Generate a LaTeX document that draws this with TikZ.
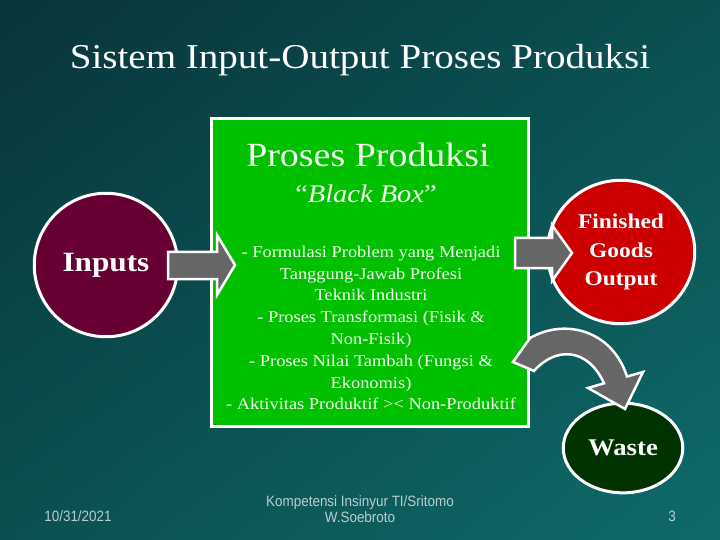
\documentclass[tikz,border=0pt]{standalone}
\usepackage{fontspec}
\setmainfont{Liberation Serif}[FakeStretch=1.12]
\newfontfamily\footfont{Liberation Sans}[FakeStretch=0.9]
\usetikzlibrary{shapes.geometric,shadings}
\definecolor{bgdark}{HTML}{08343A}
\definecolor{bgmid}{HTML}{0B5050}
\definecolor{bglight}{HTML}{0F6A6A}
\definecolor{boxgreen}{HTML}{00C000}
\definecolor{inmaroon}{HTML}{660033}
\definecolor{outred}{HTML}{CC0000}
\definecolor{wastegreen}{HTML}{003300}
\definecolor{arrowgray}{HTML}{666666}
\definecolor{paletext}{HTML}{F2FFEE}
\definecolor{foottext}{HTML}{B8CFCF}
\tikzset{
  blob/.style={ellipse, draw=white, line width=3bp, inner sep=0pt},
  blockarrow/.style={fill=arrowgray, draw=white, line width=2.5bp, line join=miter},
  boxtext/.style={text=paletext, inner sep=0pt, align=center},
  foot/.style={text=foottext, inner sep=0pt, align=center, font=\footfont\fontsize{15}{15}\selectfont}
}
\begin{document}
\begin{tikzpicture}[x=1bp,y=-1bp]
                \useasboundingbox (0,0) rectangle (720,540);
                % Drawing background
                \shade [upper left=bgdark, upper right=bgmid, lower left=bgmid, lower right=bglight] (0,0) rectangle (720,540);%

                % Marking title
                \node [text=white, inner sep=0pt, font=\fontsize{35}{40}\selectfont] (title) at (360,60) {Sistem Input-Output Proses Produksi};%

                % Drawing black box
                \draw [fill=boxgreen, draw=white, line width=3bp] (211,119) rectangle (528,426);%
                \node [boxtext, font=\fontsize{34}{40}\selectfont] (boxtitle) at (368,155) {Proses Produksi};%
                \node [boxtext, font=\fontsize{25.5}{30}\selectfont] (blackbox) at (366,194) {``\textit{Black Box}''};%
                \node [boxtext, font=\fontsize{16.5}{21.9}\selectfont] (boxbody) at (371,328) {- Formulasi Problem yang Menjadi\\Tanggung-Jawab Profesi\\Teknik Industri\\- Proses Transformasi (Fisik \&\\Non-Fisik)\\- Proses Nilai Tambah (Fungsi \&\\Ekonomis)\\- Aktivitas Produktif >< Non-Produktif};%

                % Drawing inputs
                \node [blob, fill=inmaroon, minimum width=144, minimum height=144] (inputs) at (106,265) {};%
                \node [text=white, font=\bfseries\fontsize{28}{30}\selectfont] at (inputs) {Inputs};%

                % Drawing finished goods output
                \node [blob, fill=outred, minimum width=148, minimum height=144] (output) at (621,252) {};%
                \node [text=white, align=center, font=\bfseries\fontsize{21}{29}\selectfont] at (output) {Finished\\Goods\\Output};%

                % Drawing waste
                \node [blob, fill=wastegreen, minimum width=120, minimum height=90] (waste) at (623,448) {};%
                \node [text=white, font=\bfseries\fontsize{24}{26}\selectfont] at (waste) {Waste};%

                % Drawing arrow inputs -> box
                \draw [blockarrow] (168,252) -- (217,252) -- (217,235) -- (235,265) -- (217,295) -- (217,279) -- (168,279) -- cycle;%

                % Drawing arrow box -> output
                \draw [blockarrow] (515,238) -- (552,238) -- (552,225) -- (572,253) -- (552,281) -- (552,268) -- (515,268) -- cycle;%

                % Drawing curved arrow box -> waste
                \draw [blockarrow] (530,338) .. controls (565,318) and (612,330) .. (627,376.5) -- (643,372) -- (625,409) -- (588,388) -- (604,383.3) .. controls (588,348) and (556,346) .. (534,371) -- (513,362) -- cycle;%

                % Marking footer
                \node [foot] (date) at (78,516) {10/31/2021};%
                \node [foot, font=\footfont\fontsize{15}{15.5}\selectfont] (author) at (360,509) {Kompetensi Insinyur TI/Sritomo\\W.Soebroto};%
                \node [foot] (page) at (672,516) {3};%
\end{tikzpicture}
\end{document}
